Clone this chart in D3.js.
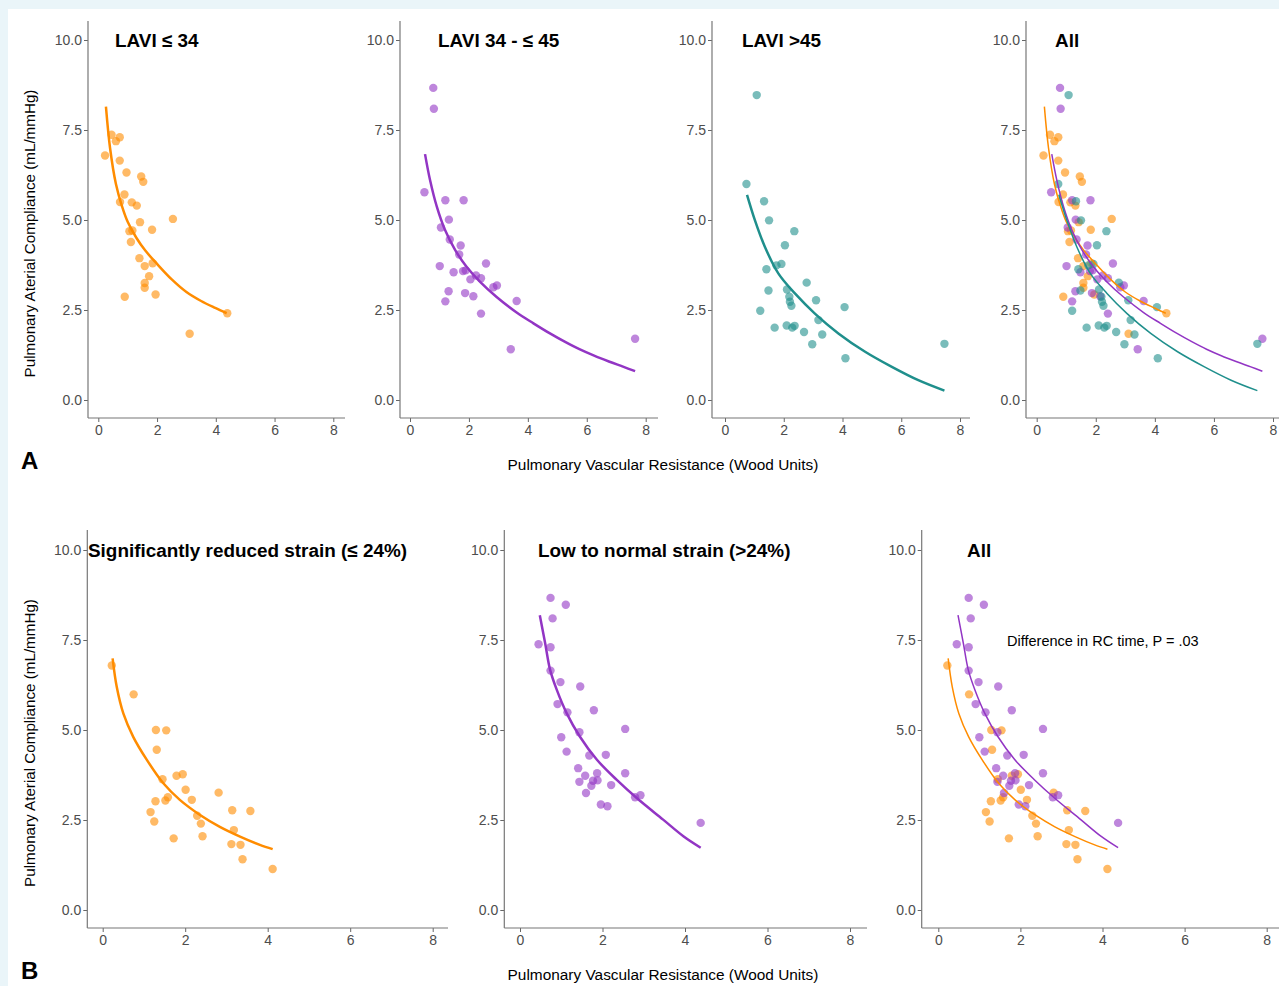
<!DOCTYPE html>
<html>
<head>
<meta charset="utf-8">
<script src="https://cdn.jsdelivr.net/npm/d3@7"></script>
<style>
  body { margin: 0; background: #eaf5f9; }
  svg { display: block; font-family: "Liberation Sans", Arial, sans-serif; }
</style>
</head>
<body>
<svg id="chart" width="1279" height="986"></svg>
<script>
// [PVR, PAC] pairs
const laviLowPts = [
  [0.23, 6.79], [0.45, 7.37], [0.60, 7.19], [0.73, 7.30], [0.73, 6.65], [0.96, 6.32],
  [0.89, 5.71], [0.74, 5.50], [1.14, 5.49], [1.31, 5.40], [1.46, 6.21], [1.53, 6.06],
  [1.42, 4.94], [1.06, 4.69], [1.16, 4.71], [1.11, 4.39], [1.83, 4.73], [2.54, 5.03],
  [1.40, 3.94], [1.58, 3.72], [1.85, 3.80], [1.73, 3.44], [1.58, 3.25], [1.58, 3.12],
  [0.90, 2.87], [1.95, 2.93], [4.39, 2.41], [3.11, 1.84]
];
const laviMidPts = [
  [0.79, 8.67], [0.81, 8.09], [0.49, 5.77], [1.20, 5.55], [1.82, 5.55], [1.32, 5.01],
  [1.05, 4.79], [1.35, 4.46], [1.72, 4.29], [1.67, 4.04], [1.01, 3.72], [1.48, 3.55],
  [1.80, 3.58], [1.89, 3.60], [2.24, 3.46], [2.05, 3.35], [2.41, 3.38], [2.58, 3.79],
  [1.31, 3.02], [1.87, 2.97], [2.15, 2.88], [1.20, 2.74], [2.83, 3.13], [2.95, 3.18],
  [2.41, 2.40], [3.62, 2.75], [3.42, 1.41], [7.64, 1.70]
];
const laviHighPts = [
  [1.08, 8.47], [0.73, 6.00], [1.33, 5.52], [1.50, 4.99], [2.36, 4.69], [2.04, 4.30],
  [1.92, 3.78], [1.75, 3.74], [1.41, 3.63], [2.78, 3.26], [1.48, 3.04], [2.11, 3.07],
  [2.19, 2.87], [2.21, 2.73], [2.26, 2.62], [3.10, 2.77], [1.20, 2.48], [3.18, 2.22],
  [4.07, 2.58], [2.10, 2.07], [2.29, 2.01], [2.37, 2.06], [1.69, 2.01], [2.69, 1.89],
  [3.31, 1.82], [2.97, 1.55], [4.10, 1.16], [7.47, 1.56]
];
const strainLowPts = [
  [0.22, 6.79], [0.75, 5.99], [1.29, 5.00], [1.54, 4.99], [1.31, 4.45], [1.45, 3.63],
  [1.79, 3.73], [1.94, 3.77], [2.01, 3.34], [1.58, 3.13], [1.52, 3.04], [1.28, 3.02],
  [2.16, 3.06], [2.81, 3.26], [1.16, 2.72], [1.25, 2.46], [2.29, 2.62], [2.38, 2.40],
  [2.42, 2.05], [1.72, 1.99], [3.14, 2.77], [3.58, 2.75], [3.18, 2.22], [3.12, 1.83],
  [3.34, 1.81], [3.39, 1.41], [4.12, 1.14]
];
const strainNormPts = [
  [0.74, 8.67], [1.11, 8.48], [0.79, 8.10], [0.45, 7.38], [0.74, 7.30], [0.74, 6.65],
  [0.98, 6.33], [1.46, 6.21], [0.91, 5.72], [1.15, 5.49], [1.79, 5.55], [1.44, 4.94],
  [2.55, 5.03], [1.00, 4.80], [1.13, 4.40], [1.68, 4.29], [2.08, 4.31], [1.41, 3.94],
  [1.58, 3.73], [1.87, 3.80], [2.55, 3.80], [1.44, 3.56], [1.77, 3.59], [1.88, 3.60],
  [1.73, 3.45], [2.21, 3.47], [1.60, 3.25], [2.79, 3.13], [2.92, 3.19], [1.96, 2.93],
  [2.12, 2.88], [4.38, 2.42]
];

// fitted curves, sampled off the figure
const laviLowFit = [
  [0.26, 8.15], [0.40, 7.00], [0.60, 6.00], [0.80, 5.40], [1.00, 4.95], [1.30, 4.50],
  [1.60, 4.15], [2.00, 3.78], [2.50, 3.35], [3.00, 3.00], [3.50, 2.75], [4.00, 2.55], [4.37, 2.41]
];
const laviMidFit = [
  [0.51, 6.83], [0.68, 6.11], [0.91, 5.37], [1.19, 4.72], [1.53, 4.17], [1.92, 3.70],
  [2.38, 3.28], [2.94, 2.86], [3.62, 2.43], [4.19, 2.13], [4.75, 1.85], [5.25, 1.62],
  [5.75, 1.41], [6.25, 1.23], [6.75, 1.07], [7.25, 0.92], [7.64, 0.80]
];
const laviHighFit = [
  [0.75, 5.70], [1.02, 4.99], [1.36, 4.25], [1.82, 3.51], [2.38, 2.96], [3.06, 2.40],
  [3.86, 1.85], [4.77, 1.34], [5.68, 0.92], [6.58, 0.55], [7.47, 0.26]
];
const strainLowFit = [
  [0.24, 6.99], [0.34, 6.20], [0.50, 5.46], [0.74, 4.81], [1.07, 4.17], [1.47, 3.52],
  [1.87, 3.06], [2.36, 2.64], [2.84, 2.31], [3.33, 2.04], [3.81, 1.81], [4.12, 1.69]
];
const strainNormFit = [
  [0.48, 8.19], [0.61, 7.41], [0.73, 6.67], [0.89, 6.12], [1.13, 5.47], [1.45, 4.82],
  [1.86, 4.18], [2.34, 3.62], [2.83, 3.11], [3.47, 2.51], [3.96, 2.05], [4.38, 1.73]
];

const xTicks = [0, 2, 4, 6, 8];
const yTicks = [0, 2.5, 5, 7.5, 10];

const ORANGE = "#ff8c00", PURPLE = "#9235c4", TEAL = "#1f8f8c";

const svg = d3.select("#chart");
svg.append("rect")
  .attr("x", 8).attr("y", 9)
  .attr("width", 1271).attr("height", 977)
  .attr("fill", "#fff");

const rowA = { top: 21, bottom: 418, y0: 400, y10: 40 };
const rowB = { top: 530, bottom: 928, y0: 910, y10: 550 };

const panels = [
  { row: rowA, left: 88, x0: 98.3, x8: 333.3, right: 345, title: "LAVI \u2264 34", titleX: 115,
    groups: [{ pts: laviLowPts, fit: laviLowFit, color: ORANGE }], lw: 2.5 },
  { row: rowA, left: 400, x0: 410, x8: 645.7, right: 658, title: "LAVI 34 - \u2264 45", titleX: 438,
    groups: [{ pts: laviMidPts, fit: laviMidFit, color: PURPLE }], lw: 2.5 },
  { row: rowA, left: 712, x0: 725, x8: 960, right: 970, title: "LAVI >45", titleX: 742,
    groups: [{ pts: laviHighPts, fit: laviHighFit, color: TEAL }], lw: 2.5 },
  { row: rowA, left: 1026, x0: 1036.7, x8: 1273, right: 1279, title: "All", titleX: 1055,
    groups: [
      { pts: laviLowPts, fit: laviLowFit, color: ORANGE },
      { pts: laviMidPts, fit: laviMidFit, color: PURPLE },
      { pts: laviHighPts, fit: laviHighFit, color: TEAL }
    ], lw: 1.5 },
  { row: rowB, left: 87.3, x0: 102.7, x8: 432.7, right: 448, title: "Significantly reduced strain (\u2264 24%)", titleX: 88,
    groups: [{ pts: strainLowPts, fit: strainLowFit, color: ORANGE }], lw: 2.5 },
  { row: rowB, left: 504.3, x0: 520, x8: 850, right: 867, title: "Low to normal strain (>24%)", titleX: 538,
    groups: [{ pts: strainNormPts, fit: strainNormFit, color: PURPLE }], lw: 2.5 },
  { row: rowB, left: 921.7, x0: 938.3, x8: 1266.7, right: 1279, title: "All", titleX: 967,
    groups: [
      { pts: strainLowPts, fit: strainLowFit, color: ORANGE },
      { pts: strainNormPts, fit: strainNormFit, color: PURPLE }
    ], lw: 1.5, note: "Difference in RC time, P = .03" }
];

panels.forEach(p => {
  const x = d3.scaleLinear().domain([0, 8]).range([p.x0, p.x8]);
  const y = d3.scaleLinear().domain([0, 10]).range([p.row.y0, p.row.y10]);
  const g = svg.append("g");

  // axes
  g.append("g")
    .attr("transform", `translate(0,${p.row.bottom})`)
    .call(d3.axisBottom(x).tickValues(xTicks).tickSize(4).tickPadding(3).tickFormat(d3.format("d")))
    .call(a => a.select(".domain").remove());
  g.append("g")
    .attr("transform", `translate(${p.left},0)`)
    .call(d3.axisLeft(y).tickValues(yTicks).tickSize(4).tickPadding(2).tickFormat(d3.format(".1f")))
    .call(a => a.select(".domain").remove());
  g.selectAll(".tick line").attr("stroke", "#666");
  g.selectAll(".tick text").attr("fill", "#4d4d4d").style("font-size", "14px")
    .style("font-family", "'Liberation Sans', Arial, sans-serif");

  g.append("line")
    .attr("x1", p.left).attr("x2", p.right)
    .attr("y1", p.row.bottom).attr("y2", p.row.bottom)
    .attr("stroke", "#777").attr("stroke-width", 1.2);
  g.append("line")
    .attr("x1", p.left).attr("x2", p.left)
    .attr("y1", p.row.top).attr("y2", p.row.bottom)
    .attr("stroke", "#777").attr("stroke-width", 1.2);

  // points
  p.groups.forEach(grp => {
    g.append("g").selectAll("circle")
      .data(grp.pts)
      .enter().append("circle")
      .attr("cx", d => x(d[0]))
      .attr("cy", d => y(d[1]))
      .attr("r", 4.2)
      .attr("fill", grp.color)
      .attr("fill-opacity", 0.6);
  });

  // fits
  const line = d3.line()
    .x(d => x(d[0]))
    .y(d => y(d[1]))
    .curve(d3.curveCatmullRom.alpha(0.5));
  p.groups.forEach(grp => {
    g.append("path")
      .datum(grp.fit)
      .attr("d", line)
      .attr("fill", "none")
      .attr("stroke", grp.color)
      .attr("stroke-width", p.lw);
  });

  g.append("text")
    .attr("x", p.titleX)
    .attr("y", p.row.y10)
    .attr("dy", "0.36em")
    .style("font-size", "18.9px")
    .style("font-weight", "bold")
    .attr("fill", "#000")
    .text(p.title);

  if (p.note) {
    g.append("text")
      .attr("x", 1007)
      .attr("y", y(7.5) + 1)
      .attr("dy", "0.36em")
      .style("font-size", "14.5px")
      .attr("fill", "#000")
      .text(p.note);
  }
});

// shared labels
[rowA, rowB].forEach((r, i) => {
  svg.append("text")
    .attr("transform", `translate(30,${(r.top + r.bottom) / 2 + 14}) rotate(-90)`)
    .attr("text-anchor", "middle")
    .attr("dy", "0.36em")
    .style("font-size", "15.2px")
    .attr("fill", "#000")
    .text("Pulmonary Aterial Compliance (mL/mmHg)");

  svg.append("text")
    .attr("x", 663)
    .attr("y", r.bottom + 46)
    .attr("text-anchor", "middle")
    .attr("dy", "0.36em")
    .style("font-size", "15.4px")
    .attr("fill", "#000")
    .text("Pulmonary Vascular Resistance (Wood Units)");

  svg.append("text")
    .attr("x", 21)
    .attr("y", r.bottom + 42)
    .attr("dy", "0.36em")
    .style("font-size", "24px")
    .style("font-weight", "bold")
    .attr("fill", "#000")
    .text(i === 0 ? "A" : "B");
});
</script>
</body>
</html>
